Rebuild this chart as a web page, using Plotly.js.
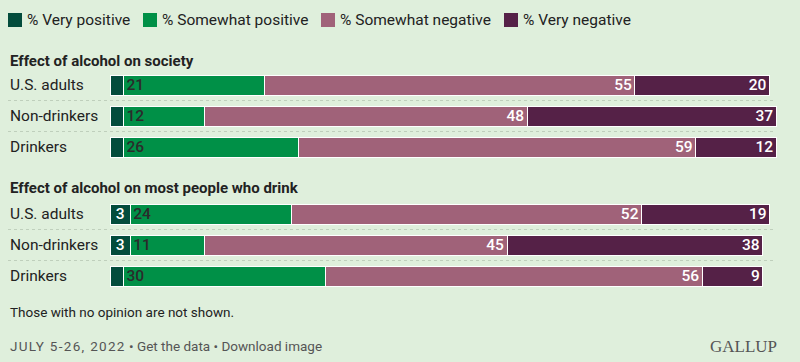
<!DOCTYPE html>
<html>
<head>
<meta charset="utf-8">
<script src="https://cdn.plot.ly/plotly-3.0.1.min.js"></script>
<style>
  html, body { margin: 0; padding: 0; background: #dfefdc; }
  #chart { width: 800px; height: 362px; }
</style>
</head>
<body>
<div id="chart"></div>
<script>
// ---- Data ----
const categories = ['U.S. adults', 'Non-drinkers', 'Drinkers'];
const seriesNames = ['% Very positive', '% Somewhat positive', '% Somewhat negative', '% Very negative'];
const groupTitles = ['Effect of alcohol on society', 'Effect of alcohol on most people who drink'];

const societyVeryPositive = [2, 2, 2];
const societySomewhatPositive = [21, 12, 26];
const societySomewhatNegative = [55, 48, 59];
const societyVeryNegative = [20, 37, 12];

const drinkVeryPositive = [3, 3, 2];
const drinkSomewhatPositive = [24, 11, 30];
const drinkSomewhatNegative = [52, 45, 56];
const drinkVeryNegative = [19, 38, 9];

const footnote = 'Those with no opinion are not shown.';
const footer = '<span style="letter-spacing:1.3px">JULY 5-26, 2022</span> • Get the data • Download image';
const brand = 'GALLUP';

// ---- Styles ----
const W = 800, H = 362, ML = 110, MR = 17;
const plotW = W - ML - MR;
const colors = ['#034c3c', '#009047', '#a06279', '#552147'];
const textColors = ['#ffffff', '#2b2b2b', '#ffffff', '#ffffff'];
const anchors = ['middle', 'start', 'end', 'end'];
const FONT = 'Roboto, "Open Sans", sans-serif';
const px2paperX = p => (p - ML) / plotW;
const px2paperY = p => 1 - p / H;

const groups = [
  [societyVeryPositive, societySomewhatPositive, societySomewhatNegative, societyVeryNegative],
  [drinkVeryPositive, drinkSomewhatPositive, drinkSomewhatNegative, drinkVeryNegative]
];

const traces = [];
groups.forEach((g, gi) => {
  g.forEach((vals, si) => {
    traces.push({
      type: 'bar',
      orientation: 'h',
      x: vals,
      y: categories,
      yaxis: gi === 0 ? 'y' : 'y2',
      name: seriesNames[si],
      showlegend: false,
      marker: { color: colors[si], line: { color: '#ffffff', width: 1 } },
      text: vals.map(v => v >= 3 ? String(v) : ''),
      textposition: 'inside',
      insidetextanchor: anchors[si],
      textangle: 0,
      textfont: { family: FONT, size: 15.5, weight: 500, color: textColors[si] },
      hoverinfo: 'x+y+name'
    });
  });
});

const annotations = [];
const shapes = [];

// Custom legend
const legendX = [8, 143, 321, 504];
legendX.forEach((lx, i) => {
  shapes.push({
    type: 'rect', xref: 'paper', yref: 'paper',
    x0: px2paperX(lx), x1: px2paperX(lx + 14),
    y0: px2paperY(27), y1: px2paperY(13),
    fillcolor: colors[i], line: { width: 0 }
  });
  annotations.push({
    xref: 'paper', yref: 'paper', x: px2paperX(lx + 17), y: px2paperY(20),
    xanchor: 'left', yanchor: 'middle', showarrow: false,
    text: seriesNames[i], font: { family: FONT, size: 15.5, color: '#222222' }
  });
});

// Group titles
const titleY = [61, 188];
groupTitles.forEach((t, gi) => {
  annotations.push({
    xref: 'paper', yref: 'paper', x: px2paperX(8), y: px2paperY(titleY[gi]),
    xanchor: 'left', yanchor: 'middle', showarrow: false,
    text: '<b>' + t + '</b>', font: { family: FONT, size: 15, color: '#222222' }
  });
});

// Row labels and dotted separators
['y', 'y2'].forEach(ax => {
  categories.forEach((c, i) => {
    annotations.push({
      xref: 'paper', yref: ax, x: px2paperX(8), y: c,
      xanchor: 'left', yanchor: 'middle', showarrow: false,
      text: c, font: { family: FONT, size: 15.5, color: '#222222' }
    });
  });
  [0.5, 1.5].forEach(yv => {
    shapes.push({
      type: 'line', xref: 'paper', yref: ax,
      x0: px2paperX(8), x1: px2paperX(776), y0: yv, y1: yv,
      line: { color: '#bfcfbc', width: 1, dash: 'dot' }, layer: 'below'
    });
  });
});

// Footnote, footer, brand
annotations.push({
  xref: 'paper', yref: 'paper', x: px2paperX(8), y: px2paperY(312),
  xanchor: 'left', yanchor: 'middle', showarrow: false,
  text: footnote, font: { family: FONT, size: 13.5, color: '#222222' }
});
annotations.push({
  xref: 'paper', yref: 'paper', x: px2paperX(8), y: px2paperY(346),
  xanchor: 'left', yanchor: 'middle', showarrow: false,
  text: footer, font: { family: FONT, size: 13.5, color: '#555555' }
});
annotations.push({
  xref: 'paper', yref: 'paper', x: px2paperX(779), y: px2paperY(346),
  xanchor: 'right', yanchor: 'middle', showarrow: false,
  text: brand, font: { family: '"Liberation Serif", "DejaVu Serif", serif', size: 17, color: '#555555' }
});

const yCommon = {
  type: 'category', categoryorder: 'array', categoryarray: categories,
  range: [2.5, -0.5], showticklabels: false, showgrid: false,
  zeroline: false, showline: false, ticks: '', fixedrange: true
};

const layout = {
  width: W, height: H,
  margin: { l: ML, r: MR, t: 0, b: 0, pad: 0 },
  paper_bgcolor: '#dfefdc', plot_bgcolor: 'rgba(0,0,0,0)',
  barmode: 'stack', bargap: 0.355,
  showlegend: false,
  uniformtext: { mode: 'show', minsize: 15.5 },
  font: { family: FONT },
  xaxis: { range: [0, 100], visible: false, fixedrange: true },
  yaxis: Object.assign({}, yCommon, { domain: [px2paperY(162.5), px2paperY(69.5)] }),
  yaxis2: Object.assign({}, yCommon, { domain: [px2paperY(291.5), px2paperY(198.5)], anchor: 'x' }),
  annotations: annotations,
  shapes: shapes
};

Plotly.newPlot('chart', traces, layout, { displayModeBar: false, staticPlot: true });
</script>
</body>
</html>
